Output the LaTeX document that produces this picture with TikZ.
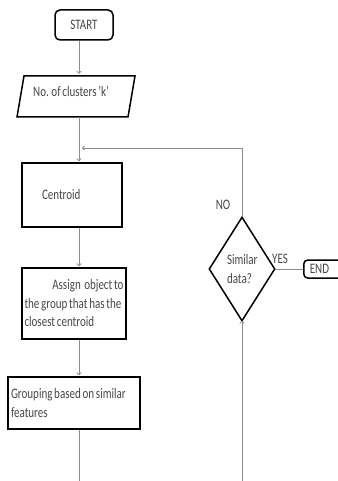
\documentclass[tikz,border=0pt]{standalone}
\usepackage{fontspec}
\setmainfont{Carlito}[FakeStretch=0.76,WordSpace=0.7]
\usetikzlibrary{arrows.meta}
\begin{document}
\begin{tikzpicture}[x=1pt,y=-1pt,
  flowbox/.style={draw=black,line width=1.5pt,inner sep=0pt},
  conn/.style={draw=black!45,line width=0.8pt},
  arr/.style={conn,-{To[length=3pt,width=5pt]}},
  txt/.style={text=black!72,font=\fontsize{14.5}{18.5}\selectfont}]
\useasboundingbox (0,0) rectangle (337,481);
% START
\node[flowbox,txt,rounded corners=5pt,minimum width=58pt,minimum height=30pt] (start) at (84,25) {START};
% parallelogram
\node[inner sep=0pt,minimum width=100pt,minimum height=41pt] (param) at (79,96.5) {};
\draw[line width=1.5pt] (24,76) -- (135,76) -- (128,117) -- (17,117) -- cycle;
\node[txt,inner sep=0pt,anchor=west] (paramtxt) at (33,91) {No. of clusters 'k'};
% centroid
\node[flowbox,txt,minimum width=100pt,minimum height=64pt,text width=60pt,inner xsep=20pt,align=flush left] (centroid) at (72,195) {Centroid};
% assign
\node[flowbox,txt,minimum width=104pt,minimum height=71pt,text width=99pt,inner xsep=2.5pt,align=flush left] (assign) at (74,303.5) {\hspace*{\fill}Assign\ \ object to\\the group that has the\\closest centroid};
% grouping
\node[flowbox,txt,minimum width=132pt,minimum height=52pt,text width=126pt,inner xsep=3pt,align=flush left] (grouping) at (74,403) {Grouping based on similar\\features};
% decision
\node[txt,inner sep=0pt,minimum width=65pt,minimum height=103pt] (dec) at (242,269) {\raisebox{-3pt}{\parbox{30pt}{\raggedright Similar\\data?}}};
\draw[line width=1.5pt] (dec.north) -- (dec.east) -- (dec.south) -- (dec.west) -- cycle;
% END
\node[flowbox,txt,rounded corners=4pt,minimum height=18pt,text width=28pt,inner xsep=6pt,align=flush left,anchor=west] (end) at (303,269) {END};
% labels
\node[txt,inner sep=0pt] (no) at (223,205) {NO};
\node[txt,inner sep=0pt] (yes) at (280,259) {YES};
% connectors
\coordinate (join) at (82,148);
\coordinate (bl) at (79,481);
\coordinate (br) at (242,481);
\draw[arr] (start.south -| param.north) -- ([yshift=2pt]param.north);
\draw[arr] (param.south) -- ([yshift=1pt]centroid.north -| param.south);
\draw[arr] (dec.north) -- (dec.north |- join) -- (join);
\draw[arr] (centroid.south -| param.south) -- ([yshift=1pt]assign.north -| param.south);
\draw[arr] (assign.south -| param.south) -- ([yshift=1pt]grouping.north -| param.south);
\draw[conn] (grouping.south -| bl) -- (bl);
\draw[arr] (br) -- (dec.south);
\draw[conn] (dec.east) -- (end.west);
\end{tikzpicture}
\end{document}
